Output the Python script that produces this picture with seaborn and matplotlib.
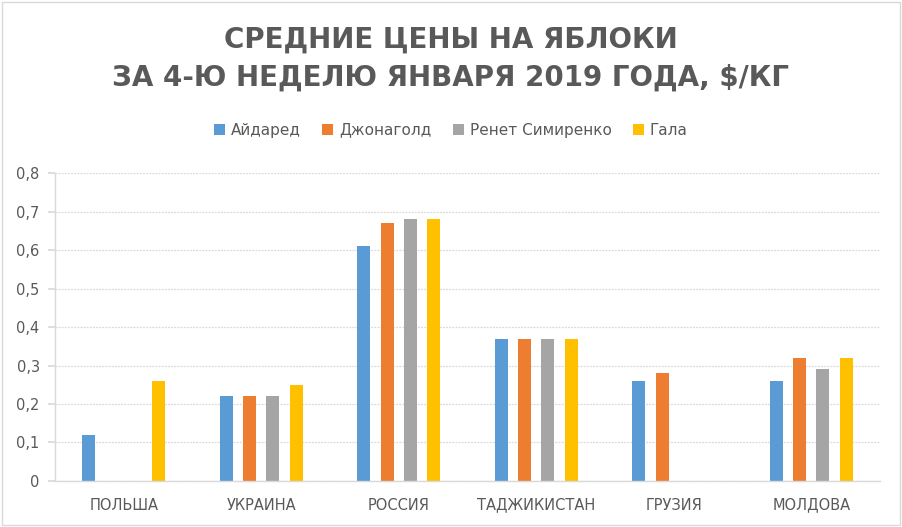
import numpy as np
import pandas as pd
import matplotlib
matplotlib.use("Agg")
import matplotlib.pyplot as plt
from matplotlib.patches import Rectangle
import seaborn as sns

categories = ["ПОЛЬША", "УКРАИНА", "РОССИЯ", "ТАДЖИКИСТАН", "ГРУЗИЯ", "МОЛДОВА"]
series = ["Айдаред", "Джонаголд", "Ренет Симиренко", "Гала"]
aydared = [0.12, 0.22, 0.61, 0.37, 0.26, 0.26]
jonagold = [np.nan, 0.22, 0.67, 0.37, 0.28, 0.32]
renet = [np.nan, 0.22, 0.68, 0.37, np.nan, 0.29]
gala = [0.26, 0.25, 0.68, 0.37, np.nan, 0.32]
yticks = [0, 0.1, 0.2, 0.3, 0.4, 0.5, 0.6, 0.7, 0.8]
ytick_labels = ["0", "0,1", "0,2", "0,3", "0,4", "0,5", "0,6", "0,7", "0,8"]
colors = ["#5B9BD5", "#ED7D31", "#A5A5A5", "#FFC000"]

rows = []
for s, vals in zip(series, [aydared, jonagold, renet, gala]):
    for c, v in zip(categories, vals):
        if not np.isnan(v):
            rows.append({"cat": c, "series": s, "val": v})
df = pd.DataFrame(rows)

sns.set_theme(style="white")
plt.rcParams["font.family"] = ["DejaVu Sans"]

fig = plt.figure(figsize=(9.02, 5.27), dpi=100)
ax = fig.add_axes([0.061, 0.0873, 0.9146, 0.5844])

sns.barplot(data=df, x="cat", y="val", hue="series", order=categories,
            hue_order=series, palette=colors, width=0.68, dodge=True,
            saturation=1, legend=False, ax=ax, errorbar=None)

# narrow bars within their slot
frac = 13 / 23.3
for p in ax.patches:
    w = p.get_width()
    x = p.get_x()
    nw = w * frac
    p.set_x(x + (w - nw) / 2)
    p.set_width(nw)
    p.set_linewidth(0)

ax.set_ylim(0, 0.8)
ax.set_xlim(-0.5, len(categories) - 0.5)
ax.set_yticks(yticks)
ax.set_yticklabels(ytick_labels, fontsize=10.5, color="#595959")
ax.set_xticks(range(len(categories)))
ax.set_xticklabels(categories, fontsize=10.5, color="#595959")
ax.tick_params(axis="x", length=0, pad=12)
ax.tick_params(axis="y", length=5, color="#D9D9D9", pad=6, left=True)
ax.set_xlabel("")
ax.set_ylabel("")
ax.yaxis.grid(True, linestyle=(0, (1.5, 1.0)), color="#D9D9D9", linewidth=0.9)
ax.set_axisbelow(True)
for side in ["top", "right"]:
    ax.spines[side].set_visible(False)
ax.spines["bottom"].set_color("#D9D9D9")
ax.spines["left"].set_color("#D9D9D9")
ax.spines["bottom"].set_linewidth(1)
ax.spines["left"].set_linewidth(1)

handles = [Rectangle((0, 0), 1, 1, facecolor=c, edgecolor="none") for c in colors]
fig.legend(handles, series, loc="center", bbox_to_anchor=(0.5, 0.753), ncol=4,
           frameon=False, fontsize=11, handlelength=0.7, handleheight=0.7,
           handletextpad=0.4, columnspacing=1.4, labelcolor="#595959")

fig.text(0.5, 0.924, "СРЕДНИЕ ЦЕНЫ НА ЯБЛОКИ", ha="center", va="center",
         fontsize=20, fontweight="bold", color="#595959")
fig.text(0.5, 0.852, "ЗА 4-Ю НЕДЕЛЮ ЯНВАРЯ 2019 ГОДА, $/КГ", ha="center", va="center",
         fontsize=20, fontweight="bold", color="#595959")

fig.patches.append(Rectangle((0.002, 0.003), 0.996, 0.994, transform=fig.transFigure,
                             fill=False, edgecolor="#D9D9D9", linewidth=1))

fig.savefig("out.png", dpi=100, facecolor="white")
